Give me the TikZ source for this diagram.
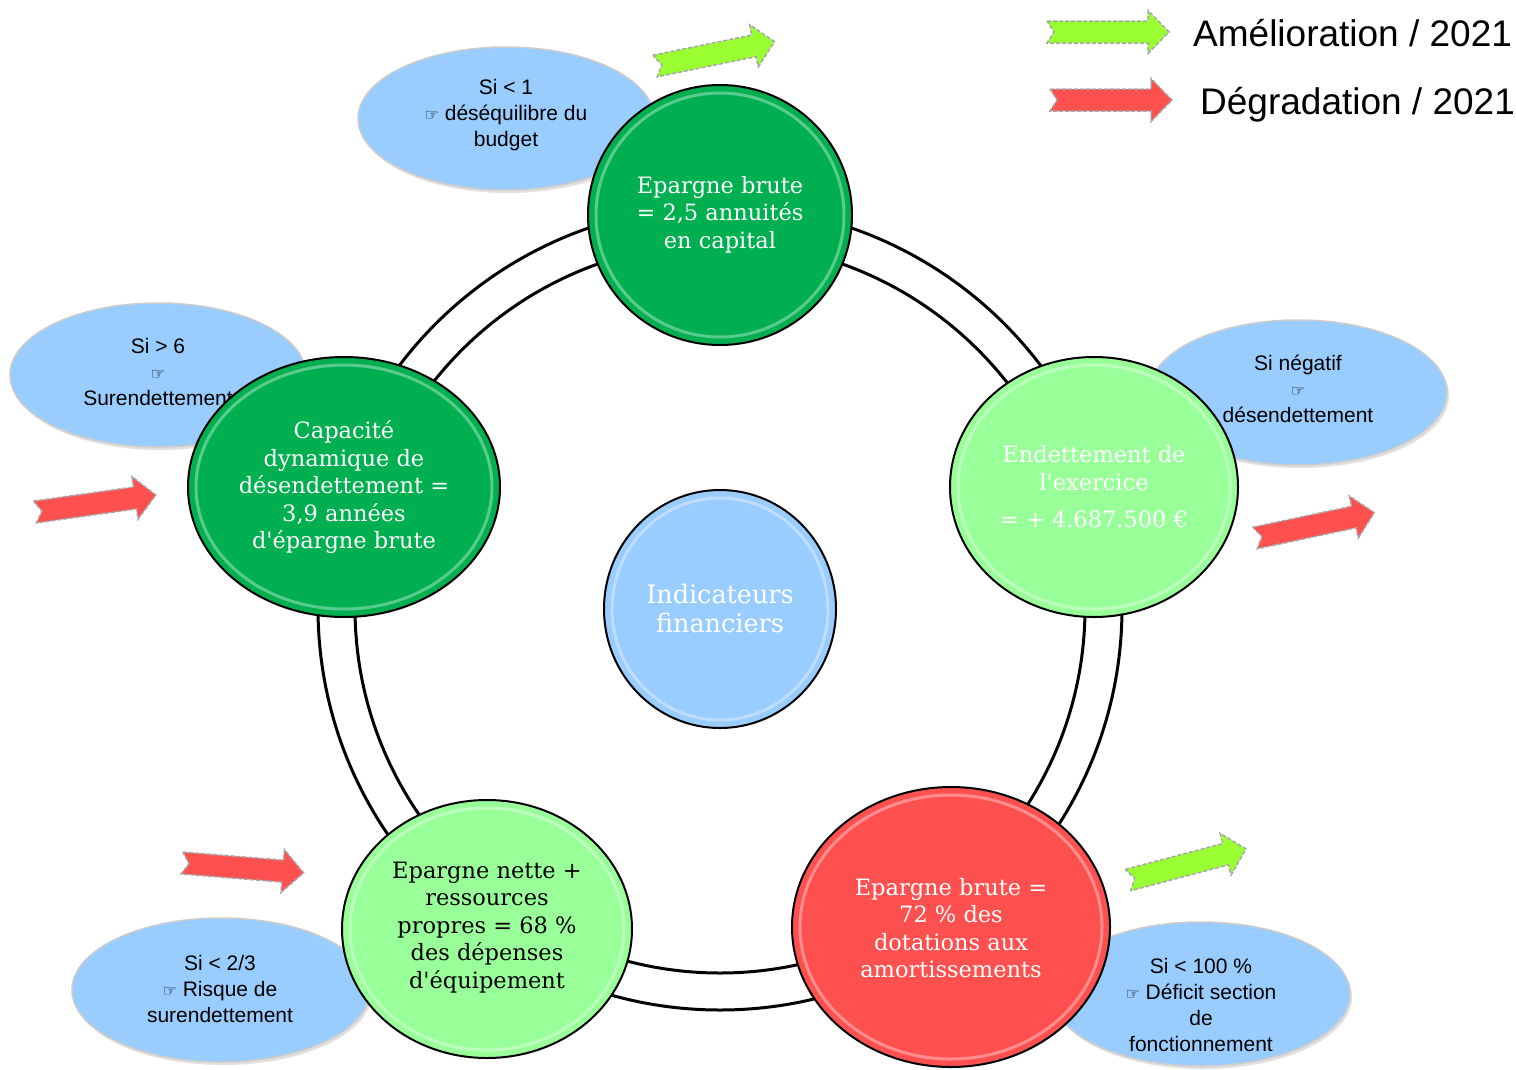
\documentclass[tikz,border=0pt]{standalone}
\usepackage{fontspec}
\usetikzlibrary{shapes.geometric}
\newfontfamily\circfont{DejaVu Serif}
\newfontfamily\ellfont{Liberation Sans}
\newfontfamily\symfont{DejaVu Sans}
\newcommand\handsym{{\symfont\fontsize{16}{16}\selectfont ☞}}
\definecolor{dkgreen}{HTML}{00B050}
\definecolor{ltgreen}{HTML}{99FF99}
\definecolor{redc}{HTML}{FF5050}
\definecolor{bluec}{HTML}{99CCFF}
\definecolor{agreen}{HTML}{99FF33}
\definecolor{ared}{HTML}{FF5050}
\tikzset{
  bubble/.style={ellipse, fill=bluec, draw=black!20, line width=1.5pt, inner sep=0pt},
  bubshadow/.style={ellipse, fill=black!12, inner sep=0pt},
  disc/.style={ellipse, draw=black, line width=2pt, inner sep=0pt},
  disctext/.style={align=center, inner sep=0pt, font=\circfont\fontsize{22.5}{27.5}\selectfont},
  bubtext/.style={align=center, inner sep=0pt, font=\ellfont\fontsize{21}{26}\selectfont},
  legtext/.style={anchor=base west, inner sep=0pt, font=\ellfont\fontsize{37}{40}\selectfont},
  gloss/.style={draw=white, opacity=0.35, line width=3pt},
  blockarrow/.style={draw=black!35, line width=1.5pt, dash pattern=on 4pt off 2pt},
  ringline/.style={draw=black, line width=3pt},
  notcharrow/.pic={\path[pic actions] (0,-11) -- (101,-11) -- (101,-21.5) -- (122,0) -- (101,21.5) -- (101,11) -- (0,11) -- (7,0) -- cycle;}
}
\begin{document}
\begin{tikzpicture}[x=1pt,y=-1pt]
\useasboundingbox[fill=white] (0,0) rectangle (1516,1069);
% ring
\coordinate (rc) at (720,608);
\draw[ringline] (rc) circle[radius=402];
\draw[ringline] (rc) circle[radius=365];
% bubble shadows
\node[bubshadow, minimum width=296pt, minimum height=143pt] (s1) at (508,121.5) {};
\node[bubshadow, minimum width=296pt, minimum height=144pt] (s2) at (160,378) {};
\node[bubshadow, minimum width=298pt, minimum height=145pt] (s3) at (1300,395.5) {};
\node[bubshadow, minimum width=298pt, minimum height=144pt] (s4) at (223,993) {};
\node[bubshadow, minimum width=298pt, minimum height=144pt] (s5) at (1203,997) {};
% bubbles
\node[bubble, minimum width=296pt, minimum height=143pt] (b1) at (506,118.5) {};
\node[bubble, minimum width=296pt, minimum height=144pt] (b2) at (158,375) {};
\node[bubble, minimum width=298pt, minimum height=145pt] (b3) at (1298,392.5) {};
\node[bubble, minimum width=298pt, minimum height=144pt] (b4) at (221,990) {};
\node[bubble, minimum width=298pt, minimum height=144pt] (b5) at (1201,994) {};
\node[bubtext] (t1) at (506,115) {Si < 1\\ \handsym\ déséquilibre du\\budget};
\node[bubtext] (t2) at (158,371.5) {Si > 6\\ \handsym\\Surendettement};
\node[bubtext] (t4) at (220,988.5) {Si < 2/3\\ \handsym\ Risque de\\surendettement};
\node[bubtext] (t5) at (1201,1005) {Si < 100 \%\\ \handsym\ Déficit section\\de\\fonctionnement};
% discs
\node[disc, fill=dkgreen, minimum width=264pt, minimum height=260pt] (c1) at (720,215) {};
\node[disc, fill=ltgreen, minimum width=288pt, minimum height=260pt] (c2) at (1094,487) {};
\node[disc, fill=dkgreen, minimum width=312pt, minimum height=260pt] (c3) at (344,487) {};
\node[disc, fill=ltgreen, minimum width=290pt, minimum height=258pt] (c4) at (487,929) {};
\node[disc, fill=redc, minimum width=318pt, minimum height=280pt] (c5) at (951,927) {};
\node[disc, fill=bluec, minimum width=232pt, minimum height=238pt] (c6) at (720,609) {};
% gloss
\draw[gloss] (c1.center) ellipse[x radius=124, y radius=122];
\draw[gloss] (c2.center) ellipse[x radius=136, y radius=122];
\draw[gloss] (c3.center) ellipse[x radius=148, y radius=122];
\draw[gloss] (c4.center) ellipse[x radius=137, y radius=121];
\draw[gloss] (c5.center) ellipse[x radius=151, y radius=132];
\draw[gloss] (c6.center) ellipse[x radius=108, y radius=111];
% disc texts
\node[disctext, text=white] (d1) at (720,214.5) {Epargne brute\\= 2,5 annuités\\en capital};
\node[disctext, text=white] (d2) at (1094,487) {Endettement de\\l'exercice\\[10pt]= + 4.687.500 €};
\node[disctext, text=white] (d3) at (344,487) {Capacité\\dynamique de\\désendettement =\\3,9 années\\d'épargne brute};
\node[disctext, text=black] (d4) at (487,927.5) {Epargne nette +\\ressources\\propres = 68 \%\\des dépenses\\d'équipement};
\node[disctext, text=white] (d5) at (951,928) {Epargne brute =\\72 \% des\\dotations aux\\amortissements};
\node[disctext, text=white, font=\circfont\fontsize{25.5}{29}\selectfont] (d6) at (720,608.5) {Indicateurs\\financiers};
\node[bubtext] (t3) at (1298,388.5) {Si négatif\\ \handsym\\désendettement};
% trend arrows
\pic[blockarrow, fill=agreen, rotate=11.5] at (655,66) {notcharrow};
\pic[blockarrow, fill=ared, rotate=8] at (35,512) {notcharrow};
\pic[blockarrow, fill=ared, rotate=12] at (1255,538) {notcharrow};
\pic[blockarrow, fill=ared, rotate=-4.6] at (182,863) {notcharrow};
\pic[blockarrow, fill=agreen, rotate=14.8] at (1128,880) {notcharrow};
% legend
\pic[blockarrow, fill=agreen] at (1047,32) {notcharrow};
\pic[blockarrow, fill=ared] at (1050,100) {notcharrow};
\node[legtext] (l1) at (1193,46) {Amélioration / 2021};
\node[legtext] (l2) at (1200,114) {Dégradation / 2021};
\end{tikzpicture}
\end{document}
